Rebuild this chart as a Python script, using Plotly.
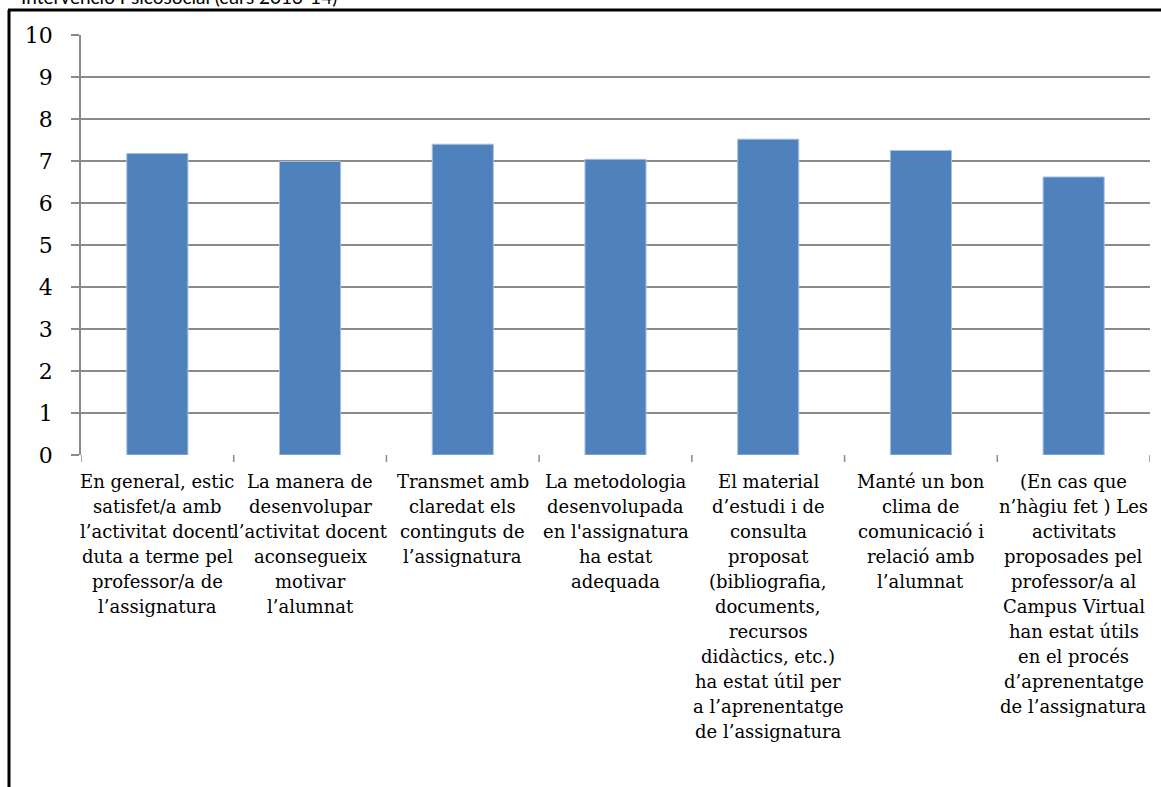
import plotly.graph_objects as go

categories = [
    "En general, estic<br>satisfet/a amb<br>l’activitat docent<br>duta a terme pel<br>professor/a de<br>l’assignatura",
    "La manera de<br>desenvolupar<br>l’activitat docent<br>aconsegueix<br>motivar<br>l’alumnat",
    "Transmet amb<br>claredat els<br>continguts de<br>l’assignatura",
    "La metodologia<br>desenvolupada<br>en l'assignatura<br>ha estat<br>adequada",
    "El material<br>d’estudi i de<br>consulta<br>proposat<br>(bibliografia,<br>documents,<br>recursos<br>didàctics, etc.)<br>ha estat útil per<br>a l’aprenentatge<br>de l’assignatura",
    "Manté un bon<br>clima de<br>comunicació i<br>relació amb<br>l’alumnat",
    "(En cas que<br>n’hàgiu fet ) Les<br>activitats<br>proposades pel<br>professor/a al<br>Campus Virtual<br>han estat útils<br>en el procés<br>d’aprenentatge<br>de l’assignatura",
]
values = [7.18, 6.99, 7.40, 7.04, 7.52, 7.25, 6.62]
y_ticks = list(range(0, 11))
title_text = "Intervenció Psicosocial (curs 2013-14)"

W, H = 1161, 787
L, R, T, B = 81, 11, 35, 332
pw, ph = W - L - R, H - T - B

def px_x(x):
    return (x - L) / pw

def px_y(y):
    return (H - B - y) / ph

fig = go.Figure()
fig.add_trace(go.Bar(
    x=list(range(len(values))),
    y=values,
    marker=dict(color="#4F81BD", line=dict(color="#a7bfe0", width=1)),
    width=0.4,
    hoverinfo="y",
))

fig.update_layout(
    width=W, height=H,
    margin=dict(l=L, r=R, t=T, b=B, pad=0),
    paper_bgcolor="white", plot_bgcolor="white",
    showlegend=False,
    font=dict(family="DejaVu Serif", color="black"),
)
fig.update_xaxes(
    type="linear",
    range=[-0.5, len(values) - 0.5],
    showticklabels=False,
    ticks="",
    showgrid=False,
    showline=False,
    zeroline=False,
)
fig.update_yaxes(
    range=[0, 10],
    tickmode="array",
    tickvals=y_ticks,
    ticktext=[str(v) for v in y_ticks],
    ticks="outside", ticklen=8, tickcolor="#8a8a8a", tickwidth=1.5,
    showgrid=True, gridcolor="#8a8a8a", gridwidth=1.5,
    showline=True, linecolor="#8a8a8a", linewidth=1.5,
    zeroline=False,
    tickfont=dict(family="DejaVu Serif", size=22, color="black"),
    ticklabelstandoff=14,
)

# category labels, one annotation per text line (fixed line spacing)
LINE_TOP0, LINE_STEP = 470, 25
for i, cat in enumerate(categories):
    for j, line in enumerate(cat.split("<br>")):
        fig.add_annotation(
            text=line, xref="x", yref="paper",
            x=i, y=px_y(LINE_TOP0 + LINE_STEP * j),
            xanchor="center", yanchor="top", showarrow=False,
            font=dict(family="DejaVu Serif", size=18, color="black"),
            borderpad=0,
        )

shapes = []
# x-axis category boundary ticks
for k in range(len(values) + 1):
    shapes.append(dict(type="line", xref="x", yref="paper",
                       x0=k - 0.5, x1=k - 0.5, y0=0, y1=px_y(462),
                       line=dict(color="#8a8a8a", width=1.5)))
# outer black border (left and top)
shapes.append(dict(type="line", xref="paper", yref="paper",
                   x0=px_x(9), x1=px_x(9), y0=px_y(10), y1=px_y(800),
                   line=dict(color="black", width=3)))
shapes.append(dict(type="line", xref="paper", yref="paper",
                   x0=px_x(8), x1=px_x(1170), y0=px_y(10), y1=px_y(10),
                   line=dict(color="black", width=3)))
fig.update_layout(shapes=shapes)

fig.add_annotation(
    text=title_text, xref="paper", yref="paper",
    x=px_x(19), y=px_y(-4), xanchor="left", yanchor="middle",
    showarrow=False, font=dict(family="Lato", size=19, color="black"),
)

fig.write_html(
    "out.html",
    config={"displayModeBar": False},
    post_script="document.body.style.margin='0';document.body.style.overflow='hidden';",
)
